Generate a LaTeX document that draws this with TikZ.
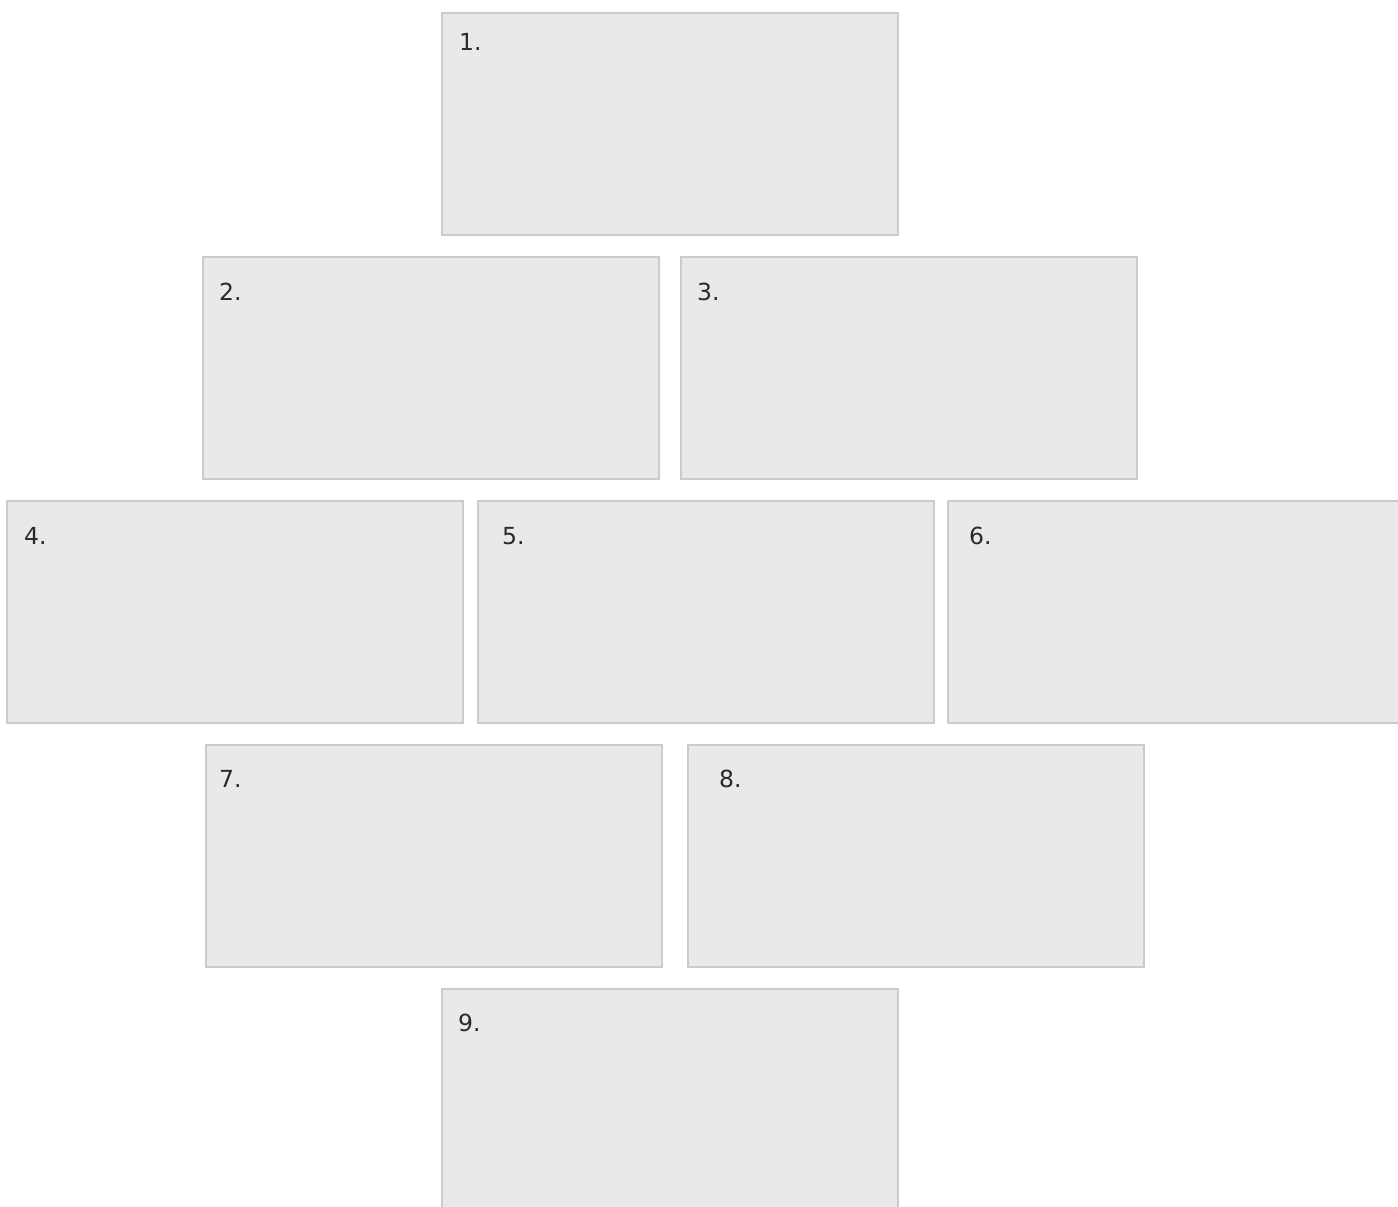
\documentclass[tikz,border=0pt]{standalone}
\usepackage{fontspec}
\setmainfont{DejaVu Sans}
\definecolor{boxfill}{HTML}{E9E9EB}
\definecolor{boxline}{HTML}{CCCCCC}
\definecolor{labeltext}{HTML}{2A2A2A}
\tikzset{
  panel/.style={draw=boxline, fill=boxfill, line width=2pt, rectangle, inner sep=0pt, outer sep=0pt, minimum width=456pt, minimum height=222pt, anchor=north west},
  numlabel/.style={anchor=base west, inner sep=0pt, text=labeltext, font=\fontsize{23.5}{26}\selectfont}
}
\begin{document}
\begin{tikzpicture}[x=1pt,y=-1pt]
\useasboundingbox (0,0) rectangle (1398,1207);
\clip (0,0) rectangle (1398,1207);
\node[panel] (b1) at (442,13) {};
\node[panel] (b2) at (203,257) {};
\node[panel] (b3) at (681,257) {};
\node[panel] (b4) at (7,501) {};
\node[panel] (b5) at (478,501) {};
\node[panel] (b6) at (948,501) {};
\node[panel] (b7) at (206,745) {};
\node[panel] (b8) at (688,745) {};
\node[panel] (b9) at (442,989) {};
\node[numlabel] (l1) at (459,51) {1.};
\node[numlabel] (l2) at (219,300) {2.};
\node[numlabel] (l3) at (697,300) {3.};
\node[numlabel] (l4) at (24,544) {4.};
\node[numlabel] (l5) at (502,544) {5.};
\node[numlabel] (l6) at (969,544) {6.};
\node[numlabel] (l7) at (219,787) {7.};
\node[numlabel] (l8) at (719,787) {8.};
\node[numlabel] (l9) at (458,1031) {9.};
\end{tikzpicture}
\end{document}
